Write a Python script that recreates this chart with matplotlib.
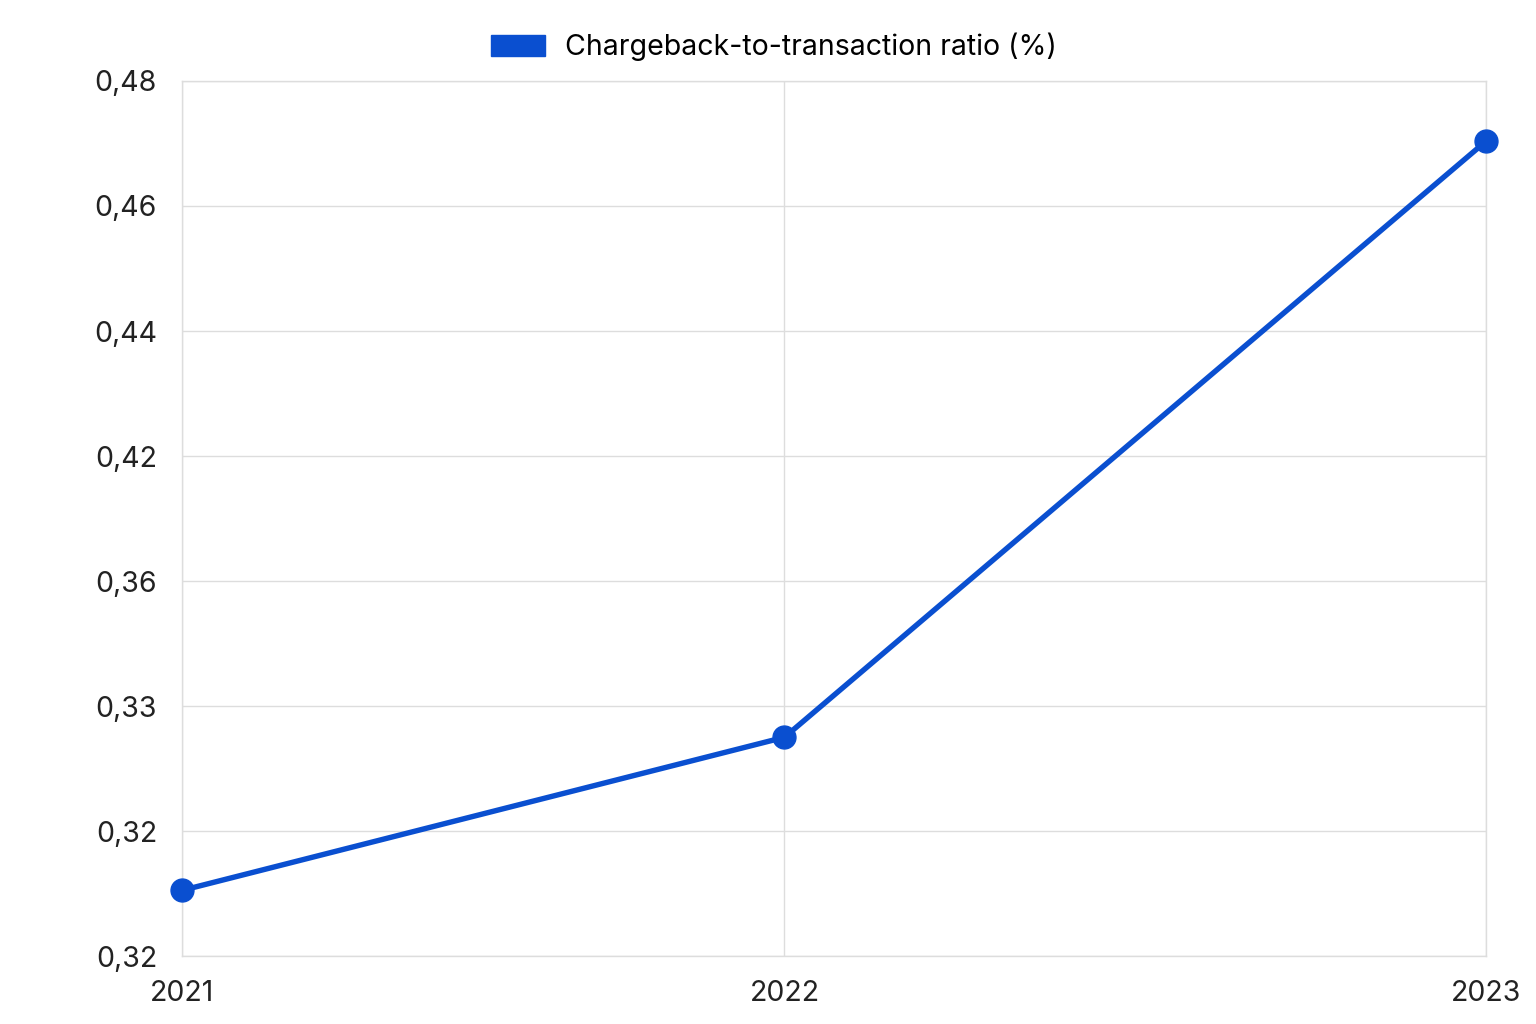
import matplotlib
matplotlib.use("Agg")
import matplotlib.pyplot as plt
import matplotlib.patches as mpatches
import numpy as np

plt.rcParams['font.family'] = ['Inter', 'DejaVu Sans']

years = ['2021', '2022', '2023']
year_pos = [0.0, 0.462, 1.0]   # 2022 sits a bit left of centre in the original
ratio = [0.332, 0.360, 0.469]
ytick_labels = ['0,32', '0,32', '0,33', '0,36', '0,42', '0,44', '0,46', '0,48']
line_color = '#0a4fd0'

fig = plt.figure(figsize=(15.36, 10.24), dpi=100)
ax = fig.add_axes([0.1185, 0.0664, 0.849, 0.8545])

ax.plot(year_pos, ratio, color=line_color, linewidth=3.9, marker='o', markersize=16.5,
        solid_capstyle='round', zorder=3, clip_on=False)

yticks = np.linspace(0.32, 0.48, len(ytick_labels))
ax.set_ylim(0.32, 0.48)
ax.set_xlim(0, 1)
ax.set_yticks(yticks)
ax.set_yticklabels(ytick_labels)
ax.set_xticks(year_pos)
ax.set_xticklabels(years)
ax.tick_params(axis='both', length=0, labelsize=20.5, colors='#222222')
ax.tick_params(axis='y', pad=18)
ax.tick_params(axis='x', pad=17)
ax.grid(True, color='#dddddd', linewidth=1)
for s in ax.spines.values():
    s.set_color('#dddddd')
    s.set_linewidth(1)

handle = mpatches.Patch(color=line_color, label='Chargeback-to-transaction ratio (%)')
fig.legend(handles=[handle], loc='center', bbox_to_anchor=(774 / 1536, 1 - 47 / 1024),
           frameon=False, fontsize=20.5, handlelength=1.9, handleheight=0.75, handletextpad=0.7)

fig.savefig('out.png', dpi=100, facecolor='white')
